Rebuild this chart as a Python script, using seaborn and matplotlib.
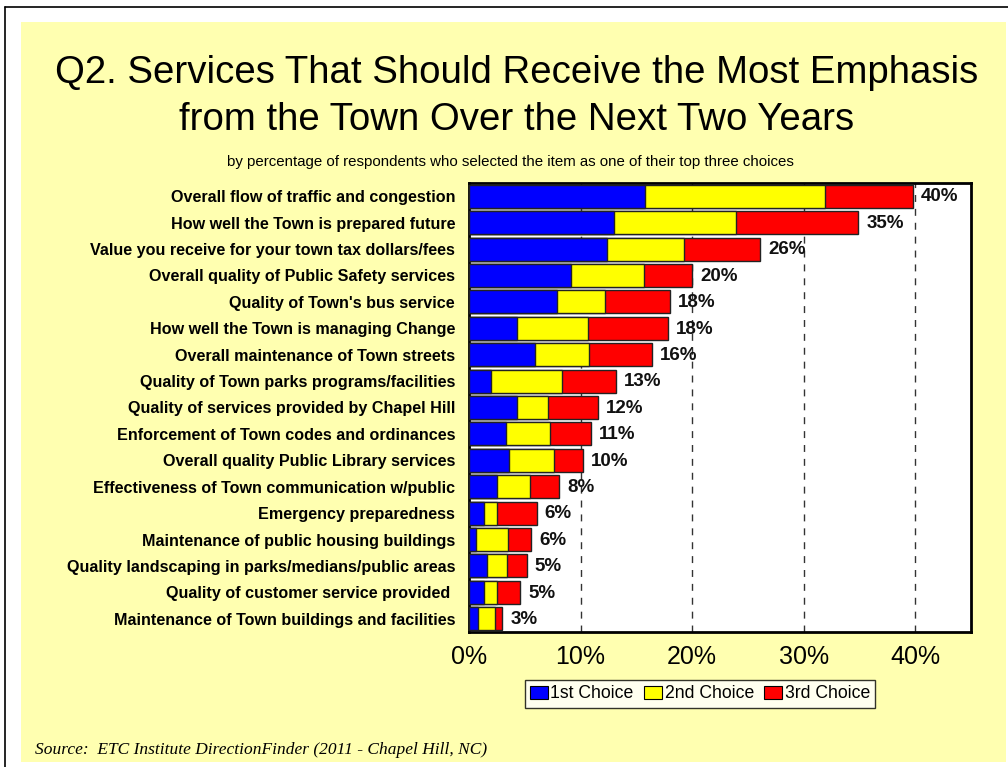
import matplotlib
matplotlib.use("Agg")
import matplotlib.pyplot as plt
import seaborn as sns
import numpy as np
import pandas as pd
from matplotlib.patches import Rectangle, Patch
from matplotlib.lines import Line2D

# Survey items, in display order (top to bottom)
services = [
    "Overall flow of traffic and congestion",
    "How well the Town is prepared future",
    "Value you receive for your town tax dollars/fees",
    "Overall quality of Public Safety services",
    "Quality of Town's bus service",
    "How well the Town is managing Change",
    "Overall maintenance of Town streets",
    "Quality of Town parks programs/facilities",
    "Quality of services provided by Chapel Hill",
    "Enforcement of Town codes and ordinances",
    "Overall quality Public Library services",
    "Effectiveness of Town communication w/public",
    "Emergency preparedness",
    "Maintenance of public housing buildings",
    "Quality landscaping in parks/medians/public areas",
    "Quality of customer service provided ",
    "Maintenance of Town buildings and facilities",
]

# Percent of respondents choosing each item as 1st / 2nd / 3rd choice
first_choice = [15.8, 13.0, 12.4, 9.1, 7.9, 4.3, 5.9, 2.0, 4.3, 3.3, 3.6, 2.5, 1.3, 0.6, 1.6, 1.3, 0.8]
second_choice = [16.1, 10.9, 6.9, 6.6, 4.3, 6.4, 4.9, 6.3, 2.8, 4.0, 4.0, 3.0, 1.2, 2.9, 1.8, 1.2, 1.5]
third_choice = [7.9, 11.0, 6.8, 4.3, 5.8, 7.1, 5.6, 4.9, 4.5, 3.6, 2.6, 2.6, 3.6, 2.1, 1.8, 2.1, 0.7]

choice_labels = ["1st Choice", "2nd Choice", "3rd Choice"]
xticks = [0, 10, 20, 30, 40]

title_lines = ["Q2. Services That Should Receive the Most Emphasis",
               "from the Town Over the Next Two Years"]
subtitle = ("by percentage of respondents who selected the item as one of "
            "their top three choices")
source = "Source:  ETC Institute DirectionFinder (2011 - Chapel Hill, NC)"

colors = ["#0000FF", "#FFFF00", "#FF0000"]
panel_color = "#FFFFB0"

df = pd.DataFrame({
    "service": services,
    "first": first_choice,
    "second": second_choice,
    "third": third_choice,
})
df["cum1"] = df["first"]
df["cum2"] = df["first"] + df["second"]
df["total"] = df["cum2"] + df["third"]

sns.set_theme(style="white")
plt.rcParams["font.family"] = ["Liberation Sans", "DejaVu Sans"]
plt.rcParams["text.color"] = "black"
plt.rcParams["xtick.color"] = "black"
plt.rcParams["ytick.color"] = "black"

W, H = 1008, 767
fig = plt.figure(figsize=(W / 100, H / 100), dpi=100, facecolor="white")

# yellow slide panel and outer frame lines
fig.patches.append(Rectangle((21 / W, 1 - 762 / H), (1006 - 21) / W, (762 - 22) / H,
                             transform=fig.transFigure, facecolor=panel_color,
                             edgecolor="none", zorder=-5))
fig.lines.append(Line2D([5 / W, 1], [1 - 7 / H, 1 - 7 / H], transform=fig.transFigure,
                        color="black", lw=1.2, zorder=-4))
fig.lines.append(Line2D([5 / W, 5 / W], [0, 1 - 7 / H], transform=fig.transFigure,
                        color="black", lw=1.2, zorder=-4))

ax = fig.add_axes([469 / W, 1 - 632 / H, (971 - 469) / W, (632 - 183) / H])
ax.set_zorder(2)
ax.set_facecolor("white")

bar_h = 0.87
edge = "#222222"
# stacked bars drawn as overlapping cumulative layers, widest first
for col, color in zip(["total", "cum2", "cum1"], colors[::-1]):
    sns.barplot(data=df, x=col, y="service", orient="h", color=color,
                width=bar_h, edgecolor=edge, linewidth=1.0, saturation=1,
                ax=ax, zorder=3)

for i, tot in enumerate(df["total"]):
    ax.text(tot + 0.7, i + 0.03, f"{tot:.0f}%", va="center", ha="left",
            fontsize=13.5, fontweight="bold", color="#111111", zorder=5)

ax.set_xlim(0, 45)
ax.set_ylim(len(services) - 0.5, -0.5)
ax.set_xticks(xticks)
ax.set_xticklabels([f"{t}%" for t in xticks], fontsize=18)
ax.tick_params(axis="x", length=0, pad=9)
ax.tick_params(axis="y", length=0, pad=10, labelsize=11.6)
for lab in ax.get_yticklabels():
    lab.set_fontweight("bold")
ax.set_xlabel("")
ax.set_ylabel("")
ax.xaxis.grid(True, linestyle=(0, (5, 5)), color="#333333", linewidth=1.0, zorder=0)
ax.yaxis.grid(False)
ax.set_axisbelow(True)
for s in ax.spines.values():
    s.set_visible(True)
    s.set_color("black")
    s.set_linewidth(2.0)

handles = [Patch(facecolor=c, edgecolor="black", linewidth=0.8) for c in colors]
leg = fig.legend(handles, choice_labels, loc="center", bbox_to_anchor=(700 / W, 1 - 694 / H),
                 ncol=3, fontsize=12.7, frameon=True, fancybox=False, shadow=False,
                 handlelength=1.0, handleheight=0.7, handletextpad=0.15,
                 columnspacing=0.6, borderpad=0.3, edgecolor="black")
leg.get_frame().set_linewidth(1.0)
leg.get_frame().set_facecolor("white")

fig.text(517 / W, 1 - 83 / H, title_lines[0], ha="center", va="baseline", fontsize=27.6)
fig.text(517 / W, 1 - 130 / H, title_lines[1], ha="center", va="baseline", fontsize=27.6)
fig.text(510 / W, 1 - 166 / H, subtitle, ha="center", va="baseline", fontsize=10.8)
fig.text(35 / W, 1 - 754 / H, source, ha="left", va="baseline", fontsize=12.5,
         family="Liberation Serif", style="italic")

fig.savefig("out.png", dpi=100, facecolor=fig.get_facecolor())
